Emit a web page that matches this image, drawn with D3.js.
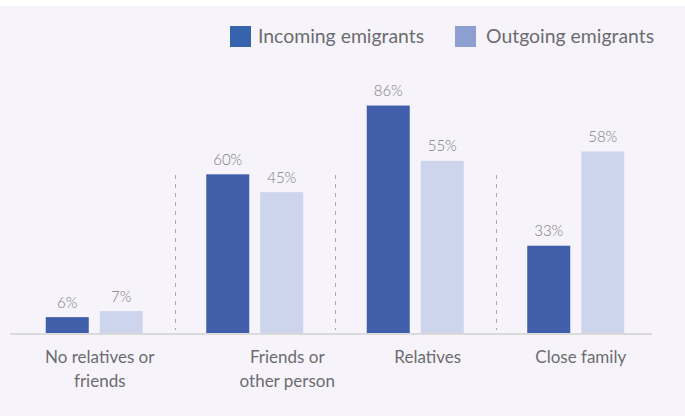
<!DOCTYPE html>
<html>
<head>
<meta charset="utf-8">
<script src="https://cdn.jsdelivr.net/npm/d3@7"></script>
<style>
  html, body { margin: 0; padding: 0; background: #ffffff; }
  svg { display: block; }
  text { font-family: Lato, "Open Sans", sans-serif; }
</style>
</head>
<body>
<div id="chart"></div>
<script>
// Contacts at destination, by emigrant group (share of respondents, %)
const categories = ["No relatives or\nfriends", "Friends or\nother person", "Relatives", "Close family"];
const seriesNames = ["Incoming emigrants", "Outgoing emigrants"];
const incoming = [6, 60, 86, 33];
const outgoing = [7, 45, 55, 58];
const valueSuffix = "%";

const width = 685, height = 416;
const baseline = 333;

// Each series is plotted against its own vertical scale
const colors = { bar: ["#405eaa", "#cdd5ec"], legend: ["#3762ac", "#8d9fd1"] };
const labelNudge = [5.5, 32.5, 12.5, 5];

const svg = d3.select("#chart").append("svg")
  .attr("width", width).attr("height", height);

svg.append("rect").attr("x", 0).attr("y", 6)
  .attr("width", width).attr("height", height - 6)
  .attr("fill", "#f6f4fa");

const x0 = d3.scaleBand().domain(categories).range([14, 656]).padding(0);
const x1 = d3.scaleBand().domain(seriesNames).range([-48.5, 48.5]).paddingInner(11 / 54);
const yScales = [
  d3.scaleLinear().domain([0, 100]).range([baseline, baseline - 264.5]),
  d3.scaleLinear().domain([0, 100]).range([baseline, baseline - 313])
];
const seriesValues = [incoming, outgoing];

// dashed dividers between category groups
svg.append("g").selectAll("line")
  .data(categories.slice(1))
  .join("line")
  .attr("x1", d => Math.round(x0(d)) + 0.5)
  .attr("x2", d => Math.round(x0(d)) + 0.5)
  .attr("y1", 175).attr("y2", 330)
  .attr("stroke", "#a9a9ae")
  .attr("stroke-width", 1)
  .attr("stroke-dasharray", "4,5");

// bars and value labels
const rows = [];
categories.forEach((c, i) => {
  seriesNames.forEach((s, j) => {
    rows.push({ cat: c, series: s, j, value: seriesValues[j][i] });
  });
});

const groups = svg.append("g");
groups.selectAll("rect")
  .data(rows)
  .join("rect")
  .attr("x", d => x0(d.cat) + x0.bandwidth() / 2 + x1(d.series))
  .attr("width", x1.bandwidth())
  .attr("y", d => yScales[d.j](d.value))
  .attr("height", d => baseline - yScales[d.j](d.value))
  .attr("fill", d => colors.bar[d.j]);

groups.selectAll("text")
  .data(rows)
  .join("text")
  .attr("x", d => x0(d.cat) + x0.bandwidth() / 2 + x1(d.series) + x1.bandwidth() / 2)
  .attr("y", d => yScales[d.j](d.value) - 9.5)
  .attr("text-anchor", "middle")
  .attr("font-size", 15)
  .attr("font-weight", 300)
  .attr("fill", "#7c7c80")
  .text(d => d.value + valueSuffix);

// axis baseline
svg.append("line")
  .attr("x1", 10).attr("x2", 652)
  .attr("y1", baseline + 1).attr("y2", baseline + 1)
  .attr("stroke", "#dadada").attr("stroke-width", 2);

// category labels
const catLabels = svg.append("g").selectAll("text")
  .data(categories)
  .join("text")
  .attr("text-anchor", "middle")
  .attr("font-size", 17)
  .attr("fill", "#6c6c70")
  .attr("transform", (d, i) => `translate(${x0(d) + x0.bandwidth() / 2 + labelNudge[i]},363)`);
catLabels.selectAll("tspan")
  .data(d => d.split("\n"))
  .join("tspan")
  .attr("x", 0)
  .attr("y", (d, k) => k * 24)
  .text(d => d);

// legend
const legendX = [230, 455];
const legendTextX = [28, 31];
const legend = svg.append("g").selectAll("g")
  .data(seriesNames)
  .join("g")
  .attr("transform", (d, j) => `translate(${legendX[j]},26)`);
legend.append("rect")
  .attr("width", 21).attr("height", 21)
  .attr("fill", (d, j) => colors.legend[j]);
legend.append("text")
  .attr("x", (d, j) => legendTextX[j]).attr("y", 17)
  .attr("font-size", 19.4)
  .attr("fill", "#6c6c70")
  .text(d => d);
</script>
</body>
</html>
